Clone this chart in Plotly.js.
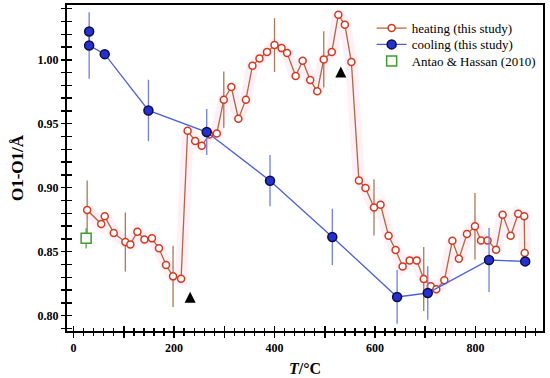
<!DOCTYPE html>
<html>
<head>
<meta charset="utf-8">
<script src="https://cdn.plot.ly/plotly-3.0.1.min.js"></script>
<style>html,body{margin:0;padding:0;background:#fff;}#chart{width:550px;height:378px;}</style>
</head>
<body>
<div id="chart"></div>
<script>
// Heating (this study)
const heatT = [27,55,62,80,103,113,127,141,156,170,184,198,214,227,242,255,270,285,299,314,328,343,356,370,385,400,414,425,442,456,471,485,498,514,527,540,553,568,581,598,611,627,641,655,669,683,697,711,722,738,754,767,783,799,811,824,841,854,870,885,897,898];
const heatV = [0.8826,0.8716,0.8776,0.8646,0.8576,0.8557,0.8656,0.8596,0.8604,0.8526,0.8396,0.8307,0.8289,0.9445,0.9365,0.9328,0.9416,0.9424,0.9688,0.9787,0.9539,0.9688,0.9953,1.0010,1.0060,1.0115,1.0091,1.0052,0.9873,0.9992,0.9841,0.9753,1.0003,1.0060,1.0352,1.0273,0.9982,0.9057,0.8998,0.8846,0.8867,0.8625,0.8513,0.8385,0.8432,0.8432,0.8287,0.8229,0.8206,0.8276,0.8586,0.8445,0.8638,0.8698,0.8588,0.8588,0.8516,0.8789,0.8625,0.8797,0.8776,0.8490];
const heatErr = [0.023,0,0,0,0.023,0,0,0,0,0,0,0.024,0,0,0,0,0,0,0.022,0,0,0,0,0,0,0.021,0,0,0,0,0,0,0.022,0,0,0,0,0,0,0.022,0,0,0,0,0,0,0.025,0,0,0,0,0,0,0.026,0,0,0,0,0,0,0,0];
// Cooling (this study)
const coolT = [31,31,62,149,265,391,515,644,705,827,899];
const coolV = [1.0221,1.0112,1.0044,0.9604,0.9435,0.9055,0.8615,0.8146,0.8177,0.8435,0.8424];
const coolErr = [0,0.026,0,0.024,0.018,0.020,0.022,0.021,0.021,0.025,0];
// Antao & Hassan (2010)
const litT = [25];
const litV = [0.8604];
const litErr = [0.008];
// Arrow markers
const arrowT = [232,532];
const arrowV = [0.8186,0.9948];
// Axis ticks
const xTickVals = [0,100,200,300,400,500,600,700,800,900];
const xTickText = ['0','','200','','400','','600','','800',''];
const yTickVals = [0.80,0.85,0.90,0.95,1.00];
const yTickText = ['0.80','0.85','0.90','0.95','1.00'];

const serif = 'Liberation Serif, Times New Roman, serif';
const xRange = [-13.1, 934.4];
const yRange = [0.788, 1.0428];
const bold = a => a.map(s => s === '' ? '' : '<b>' + s + '</b>');

const traces = [
  {x: heatT, y: heatV, mode: 'lines', line: {color: 'rgba(255,175,215,0.2)', width: 12}, showlegend: false, hoverinfo: 'skip'},
  {x: heatT, y: heatV, name: 'heating (this study)', mode: 'lines+markers', legend: 'legend',
   line: {color: '#b0683a', width: 1.3},
   marker: {symbol: 'circle', size: 7, color: '#ffffff', line: {color: '#d4391e', width: 1.5}},
   error_y: {type: 'data', array: heatErr, visible: true, color: '#a87a55', thickness: 1.3, width: 0}},
  {x: coolT, y: coolV, name: 'cooling (this study)', mode: 'lines+markers', legend: 'legend2',
   line: {color: '#4a5fd8', width: 1.3},
   marker: {symbol: 'circle', size: 9, color: '#2530d0', line: {color: '#0d0d40', width: 1.5}},
   error_y: {type: 'data', array: coolErr, visible: true, color: '#6f7ee6', thickness: 1.3, width: 0}},
  {x: litT, y: litV, name: 'Antao &amp; Hassan (2010)', mode: 'markers', legend: 'legend3',
   marker: {symbol: 'square', size: 10, color: '#ffffff', line: {color: '#3f9a2c', width: 1.5}},
   error_y: {type: 'data', array: litErr, visible: true, color: '#3f9a2c', thickness: 1.2, width: 0}},
  {x: arrowT, y: arrowV, mode: 'markers', showlegend: false, hoverinfo: 'skip',
   marker: {symbol: 'arrow-up', size: 11, color: '#000000', line: {width: 0}}},
  {x: [], y: [], xaxis: 'x2', yaxis: 'y2', showlegend: false, hoverinfo: 'skip'}
];

const legendBase = {x: 0.64, xanchor: 'left', yanchor: 'middle', bgcolor: 'rgba(0,0,0,0)',
  font: {family: serif, size: 13, color: '#000'}, itemsizing: 'trace'};

const layout = {
  width: 550, height: 378,
  margin: {l: 67, r: 7, t: 5, b: 47},
  paper_bgcolor: '#ffffff', plot_bgcolor: '#ffffff',
  showlegend: true,
  legend: Object.assign({}, legendBase, {y: 0.929}),
  legend2: Object.assign({}, legendBase, {y: 0.879}),
  legend3: Object.assign({}, legendBase, {y: 0.828}),
  xaxis: {
    range: xRange, showgrid: false, zeroline: false,
    showline: true, linecolor: '#000', linewidth: 2, mirror: true,
    tickmode: 'array', tickvals: xTickVals, ticktext: bold(xTickText),
    ticks: 'outside', ticklen: 5, tickwidth: 1.5, tickcolor: '#000',
    minor: {dtick: 20, tick0: 0, ticks: 'outside', ticklen: 3, tickwidth: 1.3, tickcolor: '#000', showgrid: false},
    tickfont: {family: serif, size: 12, color: '#000'},
    title: {text: '<b><i>T</i>/°C</b>', font: {family: serif, size: 16, color: '#000'}, standoff: 8}
  },
  xaxis2: {
    overlaying: 'x', anchor: 'y', side: 'bottom', range: xRange,
    showgrid: false, zeroline: false, showline: false, showticklabels: false,
    tickmode: 'array', tickvals: xTickVals,
    ticks: 'inside', ticklen: 5, tickwidth: 1.5, tickcolor: '#000',
    minor: {dtick: 20, tick0: 0, ticks: 'inside', ticklen: 3, tickwidth: 1.3, tickcolor: '#000', showgrid: false}
  },
  yaxis: {
    range: yRange, showgrid: false, zeroline: false,
    showline: true, linecolor: '#000', linewidth: 2, mirror: true,
    tickmode: 'array', tickvals: yTickVals, ticktext: bold(yTickText),
    ticks: 'outside', ticklen: 4, tickwidth: 1.5, tickcolor: '#000',
    minor: {dtick: 0.01, tick0: 0.8, ticks: 'outside', ticklen: 4, tickwidth: 1.3, tickcolor: '#000', showgrid: false},
    tickfont: {family: serif, size: 12, color: '#000'},
    title: {text: '<b>O1-O1/Å</b>', font: {family: serif, size: 17, color: '#000'}, standoff: 10}
  },
  yaxis2: {
    overlaying: 'y', anchor: 'x', side: 'left', range: yRange,
    showgrid: false, zeroline: false, showline: false, showticklabels: false,
    tickmode: 'array', tickvals: yTickVals,
    ticks: 'inside', ticklen: 5, tickwidth: 1.5, tickcolor: '#000',
    minor: {dtick: 0.01, tick0: 0.8, ticks: 'inside', ticklen: 5, tickwidth: 1.3, tickcolor: '#000', showgrid: false}
  }
};

Plotly.newPlot('chart', traces, layout, {staticPlot: true, displayModeBar: false});
</script>
</body>
</html>
